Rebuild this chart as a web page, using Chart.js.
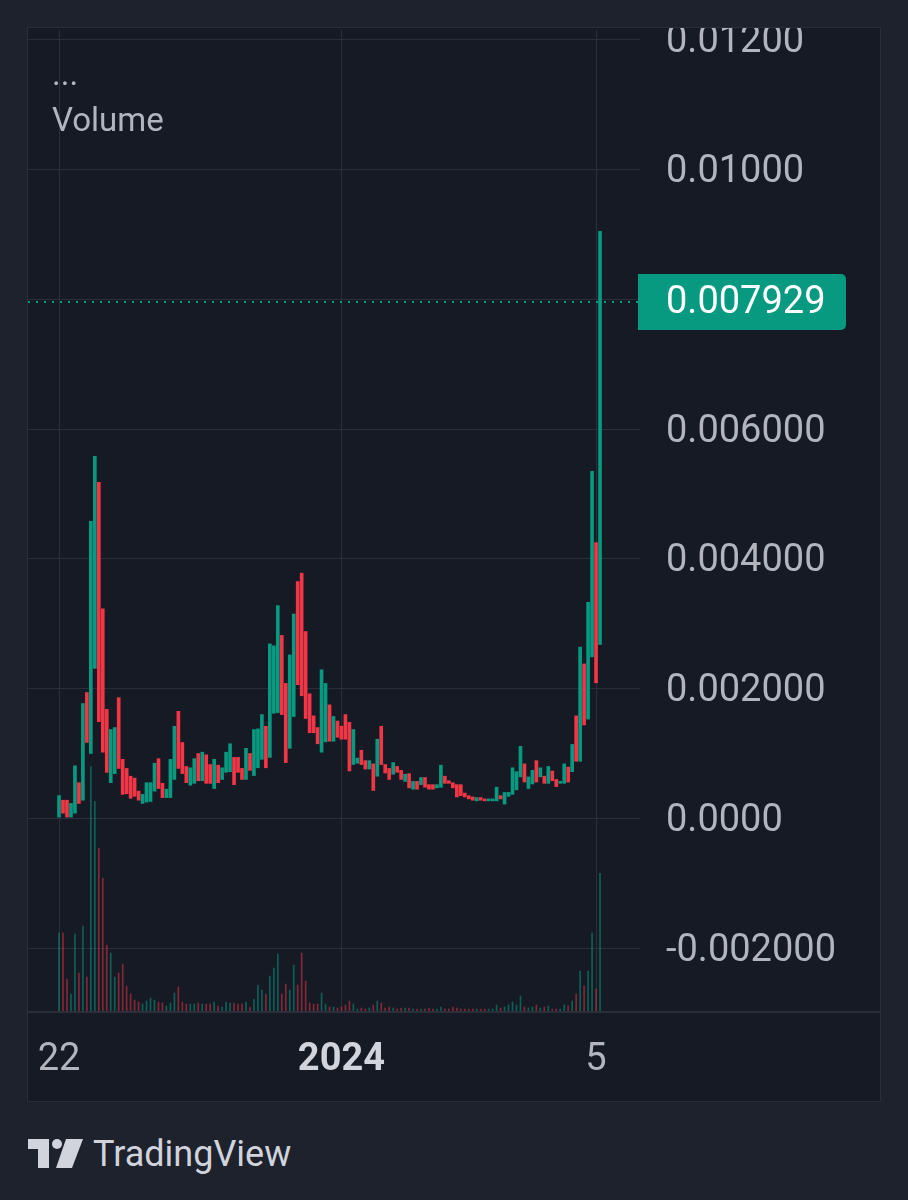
<!DOCTYPE html>
<html>
<head>
<meta charset="utf-8">
<script src="https://cdn.jsdelivr.net/npm/chart.js@4.4.1/dist/chart.umd.min.js"></script>
<style>
  body { margin: 0; width: 908px; height: 1200px; background: #1e222d; overflow: hidden; font-family: Roboto, sans-serif; }
  #wrap { position: absolute; left: 27px; top: 27px; width: 852px; height: 1073px; border: 1px solid #2a2e39; background: #161a25; }
  #wrap canvas { position: absolute; left: 0; top: 0; }
  .legend { position: absolute; left: 24px; color: #b2b5be; font-size: 33px; }
  #logo { position: absolute; left: 28px; top: 1133px; display: flex; align-items: center; color: #d1d4dc; font-size: 36px; }
  #logo svg { margin-right: 10px; }
</style>
</head>
<body>
<div id="wrap">
  <canvas id="myChart" width="852" height="1073"></canvas>
  <div class="legend" style="top:26px">...</div>
  <div class="legend" style="top:72px">Volume</div>
</div>
<div id="logo">
  <svg width="55" height="30" viewBox="0 0 55 30">
    <path d="M0 0 H21 V29 H10 V10 H0 Z" fill="#d1d4dc"/>
    <circle cx="29" cy="5" r="5" fill="#d1d4dc"/>
    <path d="M38 0 H55 L44 29 H28 Z" fill="#d1d4dc"/>
  </svg>
  <span>TradingView</span>
</div>
<script>
// daily candles, 22 Oct 2023 -> 6 Mar 2024
const opens = [0.00002,0.00028,0.00028,0.00002,0.00008,0.00055,0.00028,0.00194,0.00100,0.00231,
  0.00518,0.00323,0.00168,0.00055,0.00069,0.00186,0.00091,0.00077,0.00065,0.00062,
  0.00042,0.00023,0.00025,0.00026,0.00042,0.00092,0.00054,0.00032,0.00032,0.00060,
  0.00165,0.00117,0.00080,0.00051,0.00054,0.00100,0.00058,0.00098,0.00083,0.00046,
  0.00082,0.00060,0.00071,0.00072,0.00094,0.00094,0.00077,0.00060,0.00100,0.00066,
  0.00078,0.00091,0.00142,0.00094,0.00162,0.00163,0.00282,0.00208,0.00108,0.00157,
  0.00365,0.00378,0.00288,0.00192,0.00158,0.00140,0.00102,0.00118,0.00175,0.00119,
  0.00150,0.00142,0.00160,0.00148,0.00083,0.00085,0.00105,0.00089,0.00076,0.00084,
  0.00065,0.00142,0.00083,0.00077,0.00068,0.00080,0.00074,0.00057,0.00069,0.00045,
  0.00057,0.00052,0.00063,0.00052,0.00052,0.00047,0.00048,0.00065,0.00058,0.00055,
  0.00052,0.00052,0.00039,0.00035,0.00033,0.00027,0.00032,0.00030,0.00027,0.00027,
  0.00027,0.00035,0.00022,0.00034,0.00037,0.00044,0.00064,0.00084,0.00046,0.00053,
  0.00089,0.00064,0.00065,0.00054,0.00073,0.00060,0.00054,0.00054,0.00079,0.00072,
  0.00158,0.00088,0.00238,0.00153,0.00249,0.00425,0.00268];

const closes = [0.00035,0.00008,0.00002,0.00023,0.00081,0.00023,0.00177,0.00117,0.00458,0.00558,
  0.00149,0.00102,0.00071,0.00137,0.00140,0.00077,0.00037,0.00038,0.00031,0.00034,
  0.00028,0.00037,0.00055,0.00055,0.00085,0.00046,0.00032,0.00045,0.00091,0.00142,
  0.00077,0.00069,0.00055,0.00078,0.00092,0.00058,0.00102,0.00054,0.00054,0.00091,
  0.00055,0.00078,0.00102,0.00115,0.00052,0.00071,0.00060,0.00108,0.00074,0.00137,
  0.00138,0.00160,0.00078,0.00269,0.00266,0.00328,0.00160,0.00086,0.00252,0.00315,
  0.00206,0.00189,0.00154,0.00132,0.00132,0.00115,0.00229,0.00208,0.00119,0.00157,
  0.00125,0.00122,0.00122,0.00073,0.00137,0.00093,0.00083,0.00076,0.00089,0.00043,
  0.00122,0.00083,0.00070,0.00060,0.00086,0.00071,0.00060,0.00068,0.00047,0.00057,
  0.00045,0.00063,0.00048,0.00045,0.00045,0.00052,0.00082,0.00054,0.00054,0.00047,
  0.00033,0.00035,0.00033,0.00030,0.00028,0.00032,0.00028,0.00027,0.00030,0.00030,
  0.00048,0.00030,0.00040,0.00040,0.00078,0.00072,0.00111,0.00056,0.00064,0.00074,
  0.00056,0.00078,0.00054,0.00080,0.00058,0.00049,0.00057,0.00084,0.00056,0.00114,
  0.00088,0.00264,0.00144,0.00333,0.00535,0.00209,0.00905];

// volume, millions
const volumes = [7.9,7.9,3.3,1.8,7.8,3.9,8.6,3.5,24.6,21.1,
  16.4,13.4,6.7,5.9,3.5,3.9,4.8,2.6,1.8,1.2,
  1.0,0.8,1.1,1.4,1.2,1.0,0.9,0.6,0.9,1.9,
  2.5,1.0,0.8,0.8,0.8,0.9,0.8,0.8,0.8,1.0,
  0.6,0.5,1.0,0.9,0.9,0.8,0.8,1.0,0.5,1.3,
  2.7,2.2,1.8,3.6,4.4,5.8,1.8,2.8,2.2,4.7,
  2.7,5.9,3.1,0.9,0.8,0.8,1.9,0.8,0.5,0.5,
  0.4,0.5,0.7,1.1,0.8,0.3,0.4,0.3,0.4,0.7,
  1.1,0.9,0.4,0.5,0.4,0.3,0.4,0.4,0.4,0.3,
  0.3,0.3,0.3,0.4,0.3,0.3,0.5,0.3,0.3,0.5,
  0.4,0.3,0.3,0.3,0.3,0.3,0.3,0.3,0.3,0.3,
  0.7,0.4,0.5,0.7,1.0,0.7,1.6,0.5,0.4,0.5,
  0.7,0.4,0.5,0.6,0.3,0.3,0.3,0.7,0.6,1.1,
  1.8,4.1,2.6,4.1,7.9,2.3,13.9];

const timeTickIndex = [0, 71, 135];
const timeTickLabels = ['22', '2024', '5'];
const boldTimeLabels = ['2024'];

const priceTicks = [-0.002, 0, 0.002, 0.004, 0.006, 0.008, 0.010, 0.012];
const priceTickLabels = ['-0.002000', '0.0000', '0.002000', '0.004000', '0.006000', '0.008000', '0.01000', '0.01200'];
const lastPrice = 0.007929;
const lastPriceLabel = '0.007929';

const UP = '#089981';
const DOWN = '#f23645';
const UP_VOL = 'rgba(8,153,129,0.55)';
const DOWN_VOL = 'rgba(242,54,69,0.5)';
const GRID = '#2a2e39';
const TEXT = '#b2b5be';

const X_MIN = -7.8, X_MAX = 146.05;
const Y_MIN = -0.0029846, Y_MAX = 0.0121538;
const VOL_MAX = 98.4;

const isUp = opens.map((o, i) => closes[i] >= o);

// dotted last price line + green label on the price axis
const priceLine = {
  id: 'priceLine',
  beforeDatasetsDraw(chart) {
    const ctx = chart.ctx, area = chart.chartArea;
    const y = Math.round(chart.scales.y.getPixelForValue(lastPrice)) - 2;
    ctx.save();
    ctx.strokeStyle = UP;
    ctx.lineWidth = 2;
    ctx.setLineDash([2, 6]);
    ctx.beginPath();
    ctx.moveTo(area.left, y);
    ctx.lineTo(area.right, y);
    ctx.stroke();
    ctx.restore();
  },
  afterDraw(chart) {
    const ctx = chart.ctx, area = chart.chartArea;
    const y = chart.scales.y.getPixelForValue(lastPrice) - 2;
    ctx.save();
    // pane separator runs under the price axis too
    ctx.strokeStyle = '#2a2e39';
    ctx.lineWidth = 2;
    ctx.beginPath();
    ctx.moveTo(0, area.bottom);
    ctx.lineTo(chart.width, area.bottom);
    ctx.stroke();
    ctx.fillStyle = UP;
    ctx.beginPath();
    ctx.roundRect(area.right - 2, y - 28, 208, 56, [0, 5, 5, 0]);
    ctx.fill();
    ctx.fillStyle = '#ffffff';
    ctx.font = '38px Roboto';
    ctx.textBaseline = 'middle';
    ctx.fillText(lastPriceLabel, area.right + 26, y + 2);
    ctx.restore();
  }
};

const cti = document.getElementById('myChart');

new Chart(cti, {
  type: 'bar',
  data: {
    datasets: [{
      label: 'Price',
      data: opens.map((o, i) => ({ x: i, y: [o, closes[i]] })),
      backgroundColor: isUp.map(u => u ? UP : DOWN),
      barThickness: 3,
      grouped: false,
      yAxisID: 'y',
      order: 0
    }, {
      label: 'Volume',
      data: volumes.map((v, i) => ({ x: i, y: v })),
      backgroundColor: isUp.map(u => u ? UP_VOL : DOWN_VOL),
      barThickness: 1,
      grouped: false,
      yAxisID: 'vol',
      order: 1
    }]
  },
  options: {
    responsive: false,
    animation: false,
    devicePixelRatio: 1,
    layout: { padding: 0 },
    plugins: { legend: { display: false }, tooltip: { enabled: false } },
    scales: {
      x: {
        type: 'linear',
        position: 'bottom',
        min: X_MIN,
        max: X_MAX,
        offset: false,
        afterBuildTicks: s => { s.ticks = timeTickIndex.map(v => ({ value: v })); },
        afterFit: s => { s.height = 89; },
        grid: { offset: false, color: GRID, drawTicks: true, tickLength: 26, tickColor: 'rgba(0,0,0,0)' },
        border: { display: true, color: '#2a2e39' },
        ticks: {
          autoSkip: false,
          maxRotation: 0,
          padding: 0,
          color: ctx => boldTimeLabels.includes(timeTickLabels[ctx.index]) ? '#d1d4dc' : TEXT,
          font: ctx => ({
            family: 'Roboto', size: 38, lineHeight: 1.2,
            weight: boldTimeLabels.includes(timeTickLabels[ctx.index]) ? 'bold' : 'normal'
          }),
          callback: (v, i) => timeTickLabels[i]
        }
      },
      y: {
        position: 'right',
        min: Y_MIN,
        max: Y_MAX,
        afterBuildTicks: s => { s.ticks = priceTicks.map(v => ({ value: v })); },
        afterFit: s => { s.width = 240; },
        grid: { color: GRID, drawTicks: true, tickLength: 26, tickColor: 'rgba(0,0,0,0)' },
        border: { display: false },
        ticks: {
          autoSkip: false,
          padding: 0,
          labelOffset: 3,
          color: TEXT,
          font: { family: 'Roboto', size: 38, lineHeight: 0.1 },
          callback: (v, i) => priceTickLabels[i]
        }
      },
      vol: {
        display: false,
        position: 'left',
        min: 0,
        max: VOL_MAX
      }
    }
  },
  plugins: [priceLine]
});
</script>
</body>
</html>
